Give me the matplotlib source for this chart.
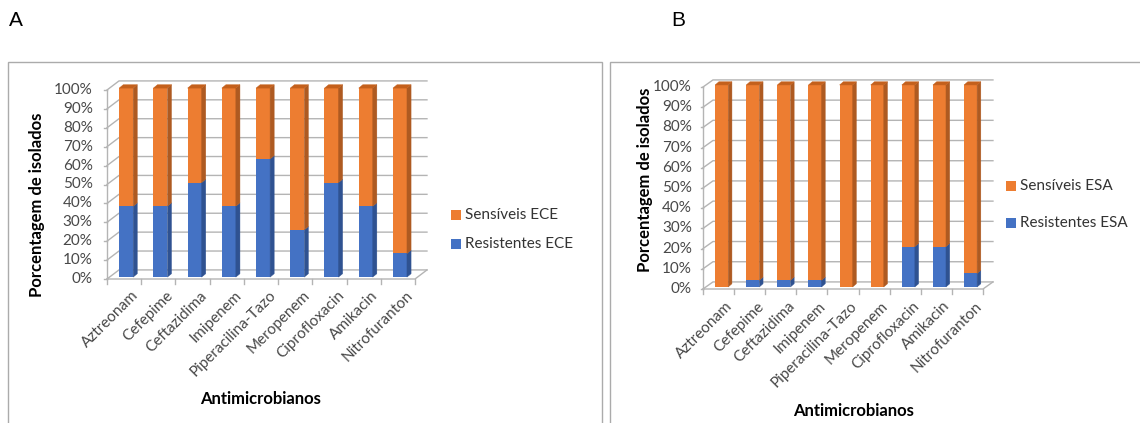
import matplotlib.pyplot as plt
from matplotlib.patches import Polygon, Rectangle

plt.rcParams['font.family'] = ['Lato', 'DejaVu Sans']

# Antimicrobials tested
drugs = ['Aztreonam', 'Cefepime', 'Ceftazidima', 'Imipenem', 'Piperacilina-Tazo',
         'Meropenem', 'Ciprofloxacin', 'Amikacin', 'Nitrofuranton']

# Percent of resistant isolates per group (sensitive = 100 - resistant)
resist_ece = [37.5, 37.5, 50.0, 37.5, 62.5, 25.0, 50.0, 37.5, 12.5]
resist_esa = [0.0, 3.3, 3.3, 3.3, 0.0, 0.0, 20.0, 20.0, 6.7]

yticks = [0, 10, 20, 30, 40, 50, 60, 70, 80, 90, 100]

ORANGE = '#ED7D31'
ORANGE_SIDE = '#AE5A21'
ORANGE_TOP = '#C4601C'
BLUE = '#4472C4'
BLUE_SIDE = '#2F5291'
GRID = '#B4B4B4'
TXT = '#484848'

W, H = 1140, 423
fig = plt.figure(figsize=(W / 100, H / 100), dpi=100)


def fx(px):
    return px / W


def fy(py):
    return 1 - py / H


def panel(left, right, y0, y100, resist, names, back, bar, lab_off):
    ax = fig.add_axes([fx(left), fy(y0), fx(right - left), (y0 - y100) / H])
    ax.set_xlim(-0.5, len(names) - 0.5)
    ax.set_ylim(0, 100)
    ax.axis('off')
    n = len(names)
    bx, by = back
    w, ox, oy, dx, dy = bar

    # back wall gridlines with the side-wall diagonal
    for g in yticks:
        ax.plot([-0.5, -0.5 + bx, n - 0.5 + bx], [g, g + by, g + by],
                color=GRID, lw=1, clip_on=False, zorder=1)
        ax.plot([-0.58, -0.5], [g, g], color=GRID, lw=1, clip_on=False)
        ax.text(-0.5 - lab_off[0], g, f'{g}%', ha='right', va='center',
                fontsize=11, color=TXT)
    ax.plot([-0.5, -0.5], [0, 100], color=GRID, lw=1, clip_on=False)
    # floor
    ax.plot([-0.5, n - 0.5, n - 0.5 + bx], [0, 0, by], color=GRID, lw=1,
            clip_on=False, zorder=1)
    for k in range(n + 1):
        ax.plot([k - 0.5, k - 0.5], [0, -2.5], color=GRID, lw=1, clip_on=False)

    xs = [i + ox for i in range(n)]
    sens = [100 - r for r in resist]
    ax.bar(xs, resist, width=w, bottom=oy, color=BLUE, zorder=3, lw=0,
           clip_on=False)
    ax.bar(xs, sens, width=w, bottom=[r + oy for r in resist], color=ORANGE,
           zorder=3, lw=0, clip_on=False)

    for x, r in zip(xs, resist):
        xl, xr = x - w / 2, x + w / 2
        for a, b, c in [(0, r, BLUE_SIDE), (r, 100, ORANGE_SIDE)]:
            if b - a <= 0:
                continue
            ax.add_patch(Polygon([(xr, a + oy), (xr + dx, a + oy + dy),
                                  (xr + dx, b + oy + dy), (xr, b + oy)],
                                 closed=True, facecolor=c, edgecolor=c, lw=0.3,
                                 zorder=3, clip_on=False))
        ax.add_patch(Polygon([(xl, 100 + oy), (xr, 100 + oy),
                              (xr + dx, 100 + oy + dy), (xl + dx, 100 + oy + dy)],
                             closed=True, facecolor=ORANGE_TOP, edgecolor=ORANGE_TOP,
                             lw=0.3, zorder=3, clip_on=False))

    for i, name in enumerate(names):
        ax.text(i + lab_off[1], -lab_off[2], name, rotation=45,
                rotation_mode='anchor', ha='right', va='top', fontsize=11,
                color=TXT)
    return ax


axA = panel(107, 415, 279, 90, resist_ece, drugs,
            back=(0.35, 4.8), bar=(0.41, 0.06, 1.0, 0.12, 1.8),
            lab_off=(0.42, 0.22, 5.0))
axB = panel(703, 983, 289, 87, resist_esa, drugs,
            back=(0.32, 3.5), bar=(0.42, 0.1, 1.0, 0.12, 1.6),
            lab_off=(0.36, 0.22, 5.0))

# panel frames
for x0, x1 in [(8, 602), (610, 1150)]:
    fig.add_artist(Rectangle((fx(x0), fy(440)), fx(x1 - x0), (440 - 62) / H,
                             fill=False, edgecolor='#ABABAB', lw=1))

fig.text(fx(9), fy(21), 'A', fontsize=15, ha='left', va='center',
         family='Liberation Sans')
fig.text(fx(671), fy(21), 'B', fontsize=15, ha='left', va='center',
         family='Liberation Sans')

# axis titles
fig.text(fx(37), fy(205), 'Porcentagem de isolados', rotation=90, ha='center',
         va='center', fontsize=12, fontweight='bold')
fig.text(fx(645), fy(180), 'Porcentagem de isolados', rotation=90, ha='center',
         va='center', fontsize=12, fontweight='bold')
fig.text(fx(261), fy(399), 'Antimicrobianos', ha='center', va='center',
         fontsize=12, fontweight='bold')
fig.text(fx(854), fy(411), 'Antimicrobianos', ha='center', va='center',
         fontsize=12, fontweight='bold')

# legends
for (sx, tx, ys, tag) in [(451, 465, (215, 244), 'ECE'), (1006, 1020, (186, 223), 'ESA')]:
    for yc, col, lab in zip(ys, [ORANGE, BLUE], ['Sensíveis', 'Resistentes']):
        fig.add_artist(Rectangle((fx(sx), fy(yc + 5)), fx(10), 10 / H,
                                 color=col, lw=0))
        fig.text(fx(tx), fy(yc), f'{lab} {tag}', ha='left', va='center',
                 fontsize=11, color='#333333')

fig.savefig('out.png', dpi=100, facecolor='white')
